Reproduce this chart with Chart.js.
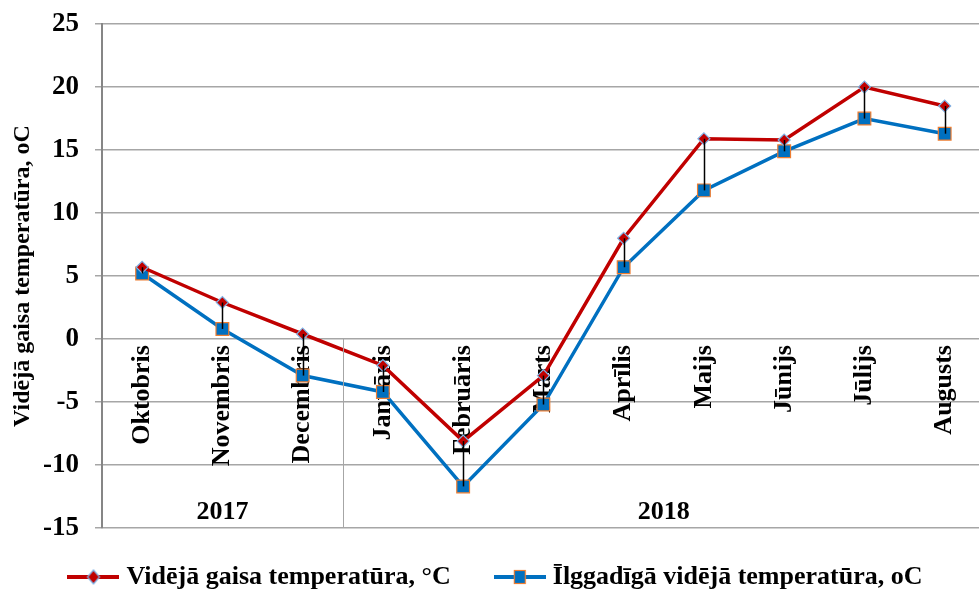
<!DOCTYPE html>
<html>
<head>
<meta charset="utf-8">
<script src="https://cdn.jsdelivr.net/npm/chart.js@4.4.1/dist/chart.umd.min.js"></script>
<style>
  html, body { margin: 0; padding: 0; background: #fff; overflow: hidden; }
  #wrap { width: 995px; height: 592px; }
</style>
</head>
<body>
<div id="wrap"><canvas id="tempChart"></canvas></div>
<script>
const months = ['Oktobris', 'Novembris', 'Decembris', 'Janvāris', 'Februāris', 'Marts',
  'Aprīlis', 'Maijs', 'Jūnijs', 'Jūlijs', 'Augusts'];
const avgTemp = [5.7, 2.9, 0.4, -2.1, -8.1, -2.9, 8.0, 15.9, 15.8, 20.0, 18.5];
const normTemp = [5.2, 0.8, -2.9, -4.2, -11.7, -5.2, 5.7, 11.8, 14.9, 17.5, 16.3];
const yearLabels = ['2017', '2018'];
const yearFirst = [0, 3];
const yearLast = [2, 10];

const serif = '"Liberation Serif", "Times New Roman", serif';
const red = '#C00000';
const blue = '#0070C0';

// legend icon: line with marker in the middle
function legendIcon(color, square) {
  const c = document.createElement('canvas');
  c.width = 52; c.height = 18;
  const g = c.getContext('2d');
  g.strokeStyle = color;
  g.lineWidth = 4;
  g.beginPath(); g.moveTo(0, 9); g.lineTo(52, 9); g.stroke();
  g.lineWidth = 1.2;
  if (square) {
    g.fillStyle = blue; g.strokeStyle = '#ED7D31';
    g.fillRect(20.5, 2.5, 11, 13); g.strokeRect(20.5, 2.5, 11, 13);
  } else {
    g.fillStyle = red; g.strokeStyle = '#7FB2E5';
    g.beginPath(); g.moveTo(26, 2); g.lineTo(32, 9); g.lineTo(26, 16); g.lineTo(20, 9); g.closePath();
    g.fill(); g.stroke();
  }
  return c;
}
const icons = [legendIcon(red, false), legendIcon(blue, true)];

const extras = {
  id: 'extras',
  afterDatasetsDraw(chart) {
    const ctx = chart.ctx;
    const x = chart.scales.x, y = chart.scales.y;
    const area = chart.chartArea;
    ctx.save();
    // high-low lines
    ctx.strokeStyle = '#000';
    ctx.lineWidth = 1.5;
    avgTemp.forEach((v, i) => {
      const px = Math.round(x.getPixelForValue(i)) + 0.5;
      ctx.beginPath();
      ctx.moveTo(px, y.getPixelForValue(v));
      ctx.lineTo(px, y.getPixelForValue(normTemp[i]));
      ctx.stroke();
    });
    // year separator
    ctx.strokeStyle = '#A6A6A6';
    ctx.lineWidth = 1;
    const sx = Math.round((x.getPixelForValue(2) + x.getPixelForValue(3)) / 2) + 0.5;
    ctx.beginPath();
    ctx.moveTo(sx, y.getPixelForValue(0));
    ctx.lineTo(sx, area.bottom);
    ctx.stroke();
    // year labels
    ctx.fillStyle = '#000';
    ctx.font = 'bold 26px ' + serif;
    ctx.textAlign = 'center';
    ctx.textBaseline = 'middle';
    yearLabels.forEach((t, i) => {
      const cx = (x.getPixelForValue(yearFirst[i]) + x.getPixelForValue(yearLast[i])) / 2;
      ctx.fillText(t, cx, area.bottom - 16);
    });
    ctx.restore();
  }
};

new Chart(document.getElementById('tempChart'), {
  type: 'line',
  data: {
    labels: months,
    datasets: [{
      label: 'Vidējā gaisa temperatūra, °C',
      data: avgTemp,
      borderColor: red,
      borderWidth: 3.5,
      pointStyle: 'rectRot',
      pointRadius: 6,
      pointBackgroundColor: red,
      pointBorderColor: '#7FB2E5',
      pointBorderWidth: 1.2,
      tension: 0
    }, {
      label: 'Īlggadīgā vidējā temperatūra, oC',
      data: normTemp,
      borderColor: blue,
      borderWidth: 3.5,
      pointStyle: 'rect',
      pointRadius: 9,
      pointBackgroundColor: blue,
      pointBorderColor: '#ED7D31',
      pointBorderWidth: 1.2,
      tension: 0
    }]
  },
  options: {
    responsive: true,
    maintainAspectRatio: false,
    animation: false,
    layout: { padding: { left: 6, right: 5, top: 4, bottom: -8 } },
    plugins: {
      tooltip: { enabled: false },
      legend: {
        position: 'bottom',
        labels: {
          color: '#000',
          font: { family: serif, size: 26, weight: 'bold' },
          usePointStyle: true,
          pointStyleWidth: 40,
          padding: 36,
          generateLabels(chart) {
            return chart.data.datasets.map((ds, i) => ({
              // two trailing spaces widen the gap between the two items
              text: i === 0 ? ds.label + '  ' : ds.label,
              pointStyle: icons[i],
              fillStyle: ds.borderColor,
              strokeStyle: ds.borderColor,
              lineWidth: 0,
              datasetIndex: i,
              fontColor: '#000'
            }));
          }
        }
      }
    },
    scales: {
      x: {
        position: { y: 0 },
        offset: true,
        grid: { display: false, drawTicks: false },
        border: { display: false },
        ticks: {
          color: '#000',
          minRotation: 90,
          maxRotation: 90,
          padding: 6,
          font: { family: serif, size: 26, weight: 'bold' }
        }
      },
      y: {
        min: -15,
        max: 25,
        afterFit(scale) { scale.width = 96; },
        ticks: {
          stepSize: 5,
          color: '#000',
          padding: 16,
          font: { family: serif, size: 27, weight: 'bold', lineHeight: 0.6 }
        },
        grid: {
          color: '#A6A6A6',
          lineWidth: 1.5,
          tickLength: 7,
          tickColor: '#A6A6A6'
        },
        border: { color: '#868686', width: 2 },
        title: {
          display: true,
          text: 'Vidējā gaisa temperatūra, oC',
          color: '#000',
          padding: { top: 2, bottom: 4 },
          font: { family: serif, size: 24, weight: 'bold' }
        }
      }
    }
  },
  plugins: [extras]
});
</script>
</body>
</html>
